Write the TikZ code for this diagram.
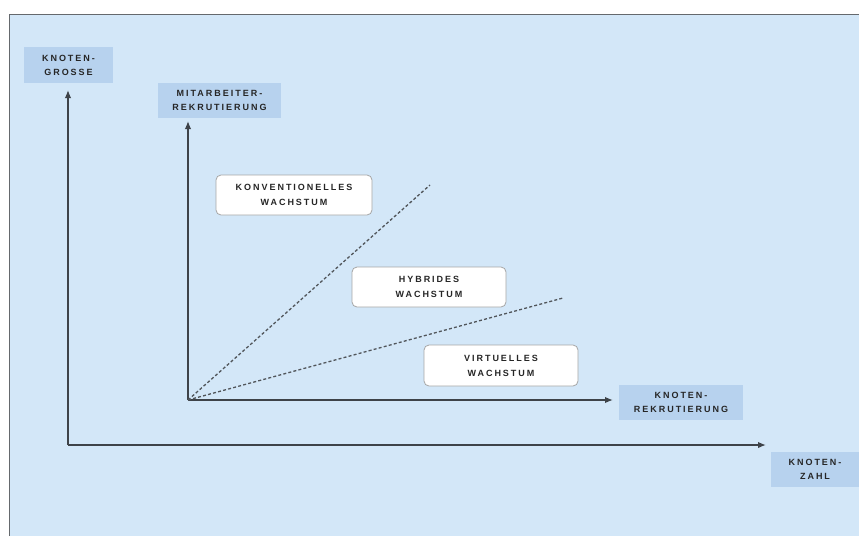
\documentclass[tikz,border=0pt]{standalone}
\usepackage{fontspec}
\newfontfamily\lblfont[LetterSpace=22,BoldFont={Liberation Sans Bold}]{Liberation Sans}
\usetikzlibrary{arrows.meta}
\definecolor{bgblue}{HTML}{D3E7F8}
\definecolor{boxblue}{HTML}{B7D2EE}
\definecolor{axisgray}{HTML}{3E4349}

\begin{document}
\begin{tikzpicture}[
  x=1pt, y=-1pt, thick,
  axis/.style={draw=axisgray, line width=1.5pt, -{Latex[length=8pt,width=6.5pt]}},
  trend/.style={draw=axisgray!90, line width=1.3pt, dash pattern=on 3pt off 2.2pt},
  axislabel/.style={fill=boxblue, align=center, inner sep=0pt,
    font=\lblfont\bfseries\fontsize{9}{14}\selectfont, text=black!85},
  growthbox/.style={fill=white, draw=gray!70, rounded corners=5pt, line width=0.8pt,
    align=center, inner sep=0pt,
    font=\lblfont\bfseries\fontsize{9}{15}\selectfont, text=black!85},
]
  \useasboundingbox (0,0) rectangle (859,536);
  \fill[white] (0,0) rectangle (859,536);
  \fill[bgblue] (9,14) rectangle (859,536);
  \draw[axisgray!80, line width=1pt] (9,536) -- (9,14) -- (859,14);

  % aeusseres Achsenkreuz
  \coordinate (O1) at (68,445);
  \coordinate (Y1) at (68,90);
  \coordinate (X1) at (766,445);
  % inneres Achsenkreuz
  \coordinate (O2) at (188,400);
  \coordinate (Y2) at (188,121);
  \coordinate (X2) at (613,400);
  % Enden der Trendlinien
  \coordinate (K) at (430,185);
  \coordinate (H) at (563,298);

  \draw[axis] (O1) -- (Y1);
  \draw[axis] (O1) -- (X1);
  \draw[axis] (O2) -- (Y2);
  \draw[axis] (O2) -- (X2);

  \draw[trend] (O2) -- (K);
  \draw[trend] (O2) -- (H);

  \node[axislabel, minimum width=89pt, minimum height=36pt] (groesse) at (68.5,65) {KNOTEN-\\GROSSE};
  \node[axislabel, minimum width=123pt, minimum height=35pt] (mitarbeiter) at (219.5,100.5) {MITARBEITER-\\REKRUTIERUNG};
  \node[axislabel, minimum width=124pt, minimum height=35pt] (rekrut) at (681,402.5) {KNOTEN-\\REKRUTIERUNG};
  \node[axislabel, minimum width=88pt, minimum height=35pt] (zahl) at (815,469.5) {KNOTEN-\\ZAHL};

  \node[growthbox, minimum width=156pt, minimum height=40pt] (konv) at (294,195) {KONVENTIONELLES\\WACHSTUM};
  \node[growthbox, minimum width=154pt, minimum height=40pt] (hybrid) at (429,287) {HYBRIDES\\WACHSTUM};
  \node[growthbox, minimum width=154pt, minimum height=41pt] (virt) at (501,365.5) {VIRTUELLES\\WACHSTUM};
\end{tikzpicture}
\end{document}
